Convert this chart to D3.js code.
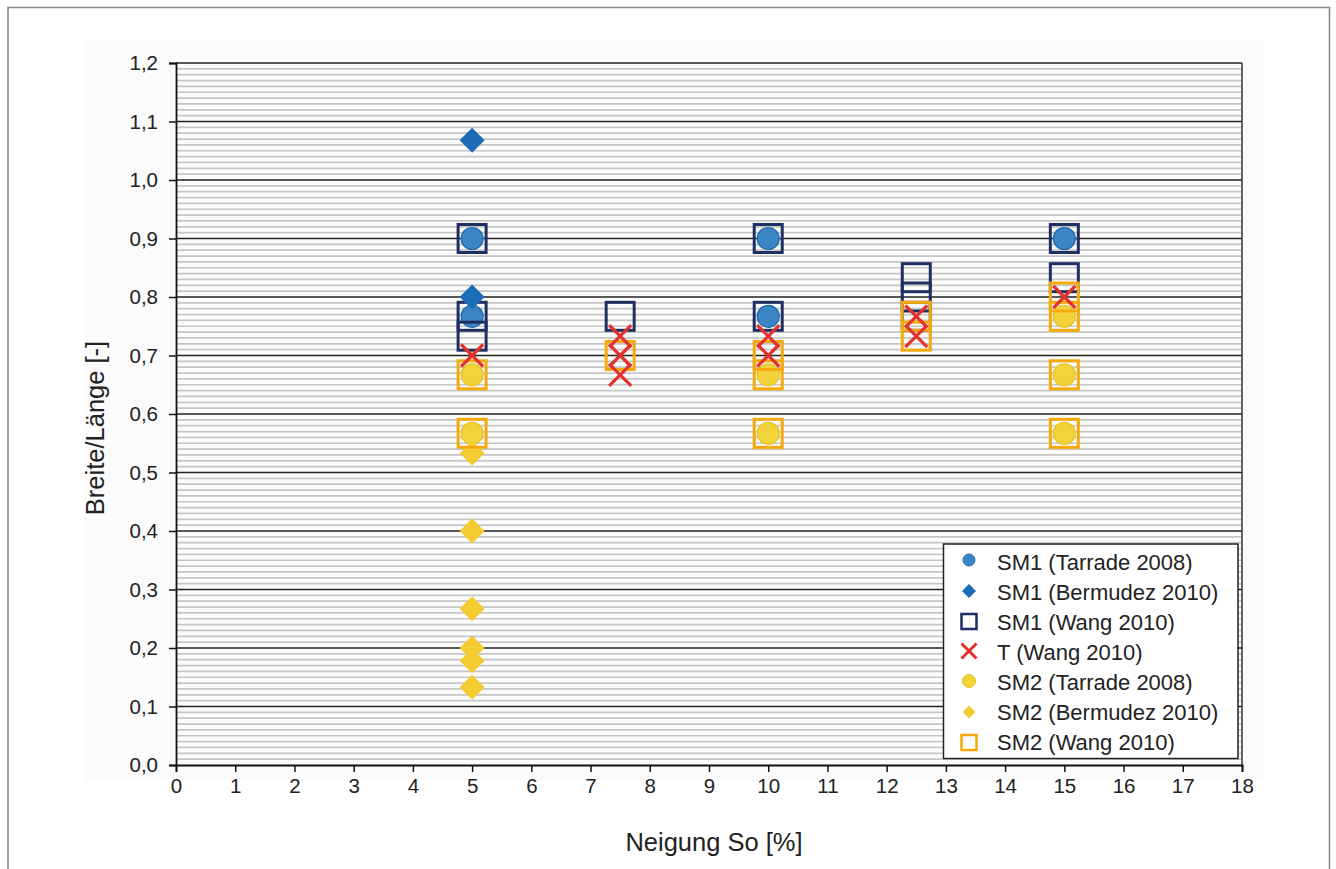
<!DOCTYPE html>
<html><head><meta charset="utf-8">
<script src="https://cdn.jsdelivr.net/npm/d3@7"></script>
<style>body{margin:0;background:#fff}svg{display:block;font-family:"Liberation Sans",Arial,sans-serif}</style>
</head><body>
<svg id="c" width="1336" height="869"></svg>
<script>
// ---- data ----
const xTicks = [0,1,2,3,4,5,6,7,8,9,10,11,12,13,14,15,16,17,18];
const yTicks = [0,0.1,0.2,0.3,0.4,0.5,0.6,0.7,0.8,0.9,1.0,1.1,1.2];
const seriesNames = ["SM1 (Tarrade 2008)","SM1 (Bermudez 2010)","SM1 (Wang 2010)","T (Wang 2010)","SM2 (Tarrade 2008)","SM2 (Bermudez 2010)","SM2 (Wang 2010)"];
const sm1TarradeX = [5,5,10,10,15];
const sm1TarradeY = [0.90,0.767,0.90,0.767,0.90];
const sm1BermudezX = [5,5];
const sm1BermudezY = [1.068,0.80];
const sm1WangX = [5,5,5,7.5,10,10,12.5,12.5,12.5,15,15];
const sm1WangY = [0.90,0.767,0.733,0.767,0.90,0.767,0.833,0.80,0.767,0.90,0.833];
const tWangX = [5,7.5,7.5,7.5,10,10,12.5,12.5,15];
const tWangY = [0.70,0.733,0.70,0.667,0.733,0.70,0.767,0.733,0.80];
const sm2TarradeX = [5,5,10,10,15,15,15];
const sm2TarradeY = [0.667,0.567,0.667,0.567,0.767,0.667,0.567];
const sm2BermudezX = [5,5,5,5,5,5];
const sm2BermudezY = [0.533,0.40,0.267,0.20,0.178,0.133];
const sm2WangX = [5,5,7.5,10,10,10,12.5,12.5,15,15,15,15];
const sm2WangY = [0.667,0.567,0.70,0.70,0.667,0.567,0.767,0.733,0.80,0.767,0.667,0.567];

const svg = d3.select("#c");
const L=176,R=1242,T=63,B=765;
const x = d3.scaleLinear().domain([0,18]).range([L,R]);
const y = d3.scaleLinear().domain([0,1.2]).range([B,T]);
const fmt = d => d3.format(".1f")(d).replace(".",",");

// outer frame
svg.append("path").attr("d","M8,869 V7.5 H1329.5 V869").attr("fill","none").attr("stroke","#8a8a8a").attr("stroke-width",1.6);
// light backdrop
svg.append("rect").attr("x",85).attr("y",41).attr("width",1178).attr("height",740).attr("fill","#fbfbfb");
svg.append("rect").attr("x",L).attr("y",T).attr("width",R-L).attr("height",B-T).attr("fill","#fcfcfc");

// minor grid
const minor = d3.range(1,120).filter(i=>i%10!==0).map(i=>i/100);
svg.append("g").selectAll("line").data(minor).join("line")
  .attr("x1",L).attr("x2",R).attr("y1",d=>y(d)).attr("y2",d=>y(d))
  .attr("stroke","#c6c6c6").attr("stroke-width",1.7);
// major grid
svg.append("g").selectAll("line").data(yTicks.filter(d=>d>0)).join("line")
  .attr("x1",L).attr("x2",R).attr("y1",d=>y(d)).attr("y2",d=>y(d))
  .attr("stroke","#222").attr("stroke-width",1.5);
// right border
svg.append("line").attr("x1",R).attr("x2",R).attr("y1",T).attr("y2",B).attr("stroke","#333").attr("stroke-width",1.5);

// axes
const ya = svg.append("g").attr("transform",`translate(${L},0)`)
  .call(d3.axisLeft(y).tickValues(yTicks).tickFormat(fmt).tickSize(7).tickPadding(11));
const xa = svg.append("g").attr("transform",`translate(0,${B})`)
  .call(d3.axisBottom(x).tickValues(xTicks).tickFormat(d3.format("d")).tickSize(7).tickPadding(6));
[ya,xa].forEach(a=>{
  a.select(".domain").attr("stroke","#111").attr("stroke-width",1.8);
  a.selectAll(".tick line").attr("stroke","#111").attr("stroke-width",1.5);
  a.selectAll(".tick text").attr("font-size",20.5).attr("fill","#222").attr("font-family","Liberation Sans, Arial, sans-serif");
});

// titles
svg.append("text").attr("transform","translate(104,428) rotate(-90)").attr("text-anchor","middle")
  .attr("font-size",25.5).attr("fill","#222").text("Breite/Länge [-]");
svg.append("text").attr("x",714).attr("y",851).attr("text-anchor","middle")
  .attr("font-size",25.5).attr("fill","#222").text("Neigung So [%]");

// marker drawers
const zip = (xs,ys)=>xs.map((v,i)=>[v,ys[i]]);
const diamond = h => `M0,${-h}L${h},0L0,${h}L${-h},0Z`;
function circles(g,data,r,fill,stroke){
  g.selectAll(null).data(data).join("circle").attr("cx",d=>x(d[0])).attr("cy",d=>y(d[1]))
   .attr("r",r).attr("fill",fill).attr("stroke",stroke).attr("stroke-width",1.2);
}
function diamonds(g,data,h,fill){
  g.selectAll(null).data(data).join("path").attr("transform",d=>`translate(${x(d[0])},${y(d[1])})`)
   .attr("d",diamond(h)).attr("fill",fill);
}
function squares(g,data,s,stroke){
  g.selectAll(null).data(data).join("rect").attr("x",d=>x(d[0])-s/2).attr("y",d=>y(d[1])-s/2)
   .attr("width",s).attr("height",s).attr("fill","none").attr("stroke",stroke).attr("stroke-width",3);
}
function crosses(g,data,h,stroke){
  g.selectAll(null).data(data).join("path").attr("transform",d=>`translate(${x(d[0])},${y(d[1])})`)
   .attr("d",`M${-h},${-h}L${h},${h}M${h},${-h}L${-h},${h}`).attr("stroke",stroke).attr("stroke-width",3.2).attr("fill","none");
}
const C = {b1:"#3a85c6",b1s:"#2668a6",bd:"#1d6db6",nv:"#1e2f62",rd:"#e3312b",y1:"#f3d33a",y1s:"#e6c22a",yd:"#f4cc32",or:"#f5aa0a"};
const g = svg.append("g");
circles(g,zip(sm2TarradeX,sm2TarradeY),11,C.y1,C.y1s);
diamonds(g,zip(sm2BermudezX,sm2BermudezY),12.5,C.yd);
circles(g,zip(sm1TarradeX,sm1TarradeY),11,C.b1,C.b1s);
squares(g,zip(sm1WangX,sm1WangY),28,C.nv);
diamonds(g,zip(sm1BermudezX,sm1BermudezY),12.5,C.bd);
squares(g,zip(sm2WangX,sm2WangY),28,C.or);
crosses(g,zip(tWangX,tWangY),11,C.rd);

// legend
const lg = svg.append("g");
lg.append("rect").attr("x",943.5).attr("y",544).attr("width",294.5).attr("height",214.5).attr("fill","#fff").attr("stroke","#222").attr("stroke-width",1.5);
const rowY = i => 562 + i*30;
const lx = 969;
seriesNames.forEach((n,i)=>{
  lg.append("text").attr("x",997).attr("y",rowY(i)+8).attr("font-size",22).attr("fill","#222").text(n);
});
const lgc = lg.append("g");
lgc.append("circle").attr("cx",lx).attr("cy",rowY(0)-2).attr("r",6).attr("fill",C.b1).attr("stroke",C.b1s);
lgc.append("path").attr("transform",`translate(${lx},${rowY(1)-1})`).attr("d",diamond(7)).attr("fill",C.bd);
lgc.append("rect").attr("x",lx-7.5).attr("y",rowY(2)-8).attr("width",15).attr("height",15).attr("fill","none").attr("stroke",C.nv).attr("stroke-width",2.5);
lgc.append("path").attr("transform",`translate(${lx},${rowY(3)-1})`).attr("d","M-7.5,-7.5L7.5,7.5M7.5,-7.5L-7.5,7.5").attr("stroke",C.rd).attr("stroke-width",3);
lgc.append("circle").attr("cx",lx).attr("cy",rowY(4)-1).attr("r",6.5).attr("fill",C.y1).attr("stroke",C.y1s);
lgc.append("path").attr("transform",`translate(${lx},${rowY(5)})`).attr("d",diamond(6.5)).attr("fill",C.yd);
lgc.append("rect").attr("x",lx-7.5).attr("y",rowY(6)-7).attr("width",15).attr("height",15).attr("fill","none").attr("stroke",C.or).attr("stroke-width",2.5);
</script>
</body></html>
